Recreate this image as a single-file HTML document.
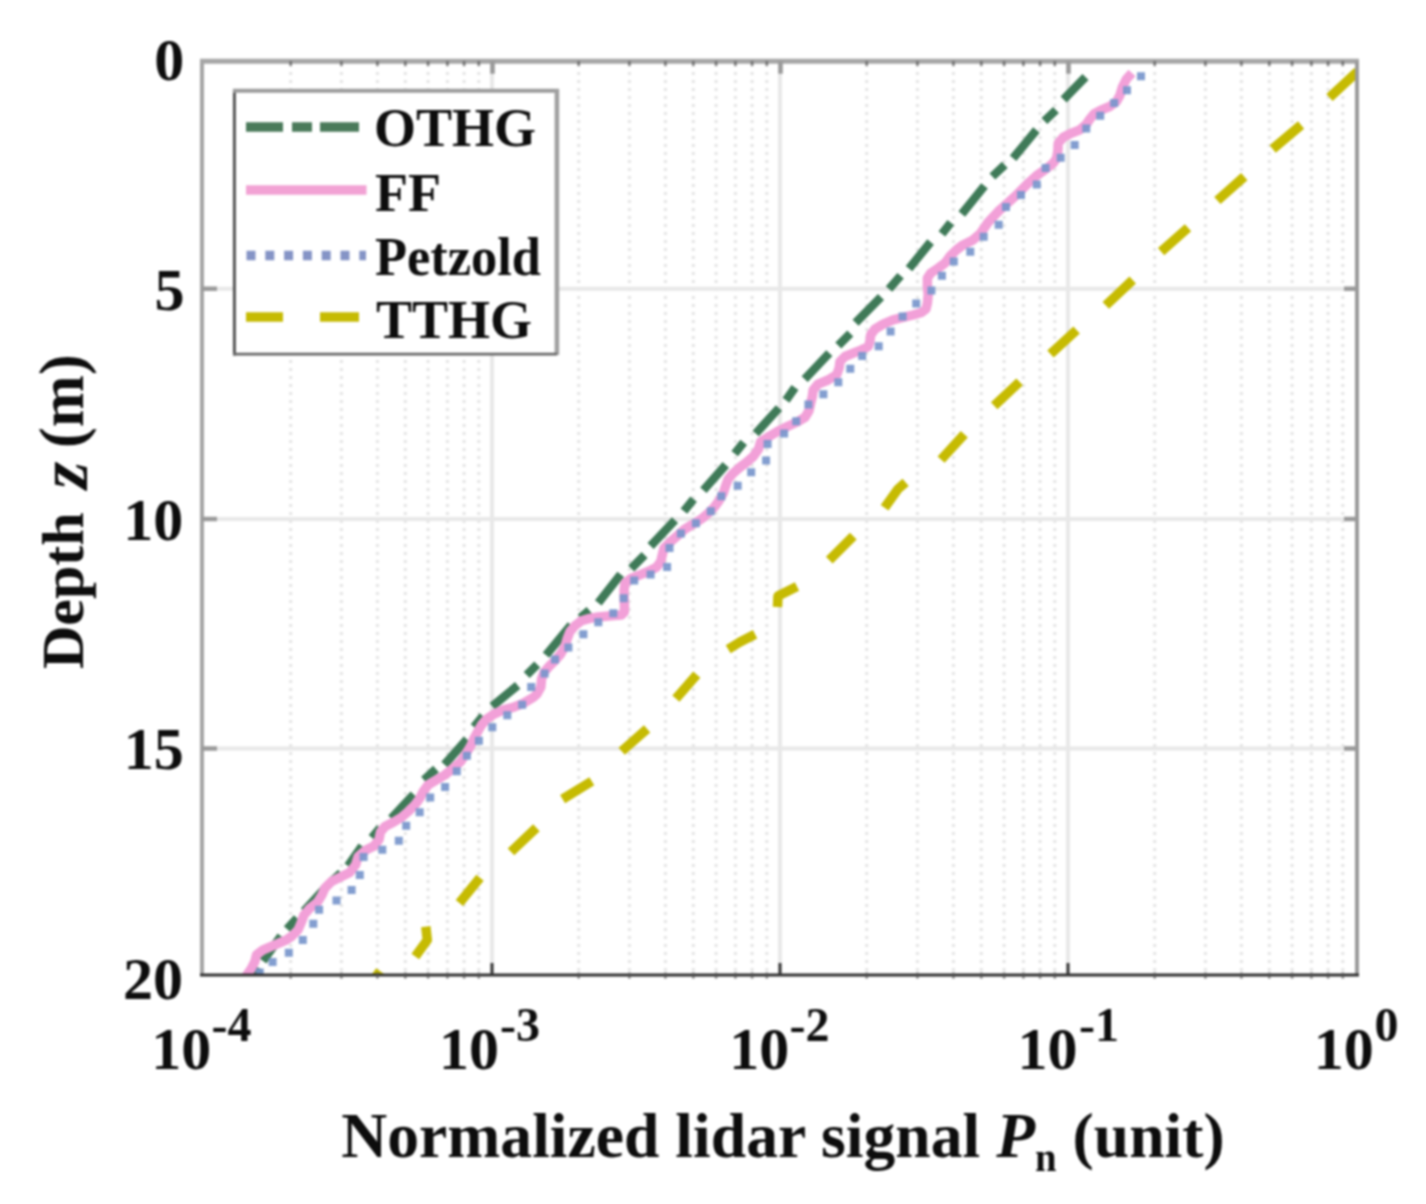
<!DOCTYPE html><html><head><meta charset="utf-8"><style>html,body{margin:0;padding:0;background:#fff}svg{display:block}#w{filter:blur(1px)}</style></head><body>
<div id="w"><svg width="1426" height="1204" viewBox="0 0 1426 1204">
<rect width="1426" height="1204" fill="#fff"/>
<path d="M290.7 64V973 M341.4 64V973 M377.4 64V973 M405.3 64V973 M428.1 64V973 M447.4 64V973 M464.1 64V973 M478.8 64V973 M578.7 64V973 M629.4 64V973 M665.4 64V973 M693.3 64V973 M716.1 64V973 M735.4 64V973 M752.1 64V973 M766.8 64V973 M866.7 64V973 M917.4 64V973 M953.4 64V973 M981.3 64V973 M1004.1 64V973 M1023.4 64V973 M1040.1 64V973 M1054.8 64V973 M1154.7 64V973 M1205.4 64V973 M1241.4 64V973 M1269.3 64V973 M1292.1 64V973 M1311.4 64V973 M1328.1 64V973 M1342.8 64V973" stroke="#e4e4e4" stroke-width="3" stroke-dasharray="3 5" fill="none"/>
<path d="M492.0 61V975 M780.0 61V975 M1068.0 61V975 M202 288.8H1357 M202 519.0H1357 M202 748.5H1357" stroke="#e8e8e8" stroke-width="4" fill="none"/>
<defs><clipPath id="ax"><rect x="202" y="61" width="1155" height="914"/></clipPath></defs>
<g clip-path="url(#ax)" fill="none" stroke-linejoin="round">
<path d="M1085.5 77.0 L1063.6 99.5 M1056.0 110.0 L1044.4 121.0 M1036.4 130.0 L1013.1 158.2 M1004.8 164.9 L992.4 176.5 M984.5 185.8 L961.8 214.0 M950.8 222.6 L941.9 233.8 M930.6 242.0 L909.0 268.6 M900.6 275.7 L889.0 289.0 M881.0 297.0 L855.6 322.8 M850.3 333.6 L838.3 345.6 M829.3 353.1 L804.7 379.2 M795.0 387.5 L786.0 400.2 M779.0 408.0 L755.7 433.5 M743.7 442.4 L734.7 453.6 M725.8 464.9 L703.4 490.3 M693.6 499.2 L683.9 511.2 M675.0 520.2 L650.6 546.0 M644.6 555.0 L631.2 568.4 M620.7 574.4 L598.3 602.8 M589.3 610.3 L580.4 617.7 M571.0 625.0 L546.0 655.1 M537.2 664.5 L526.7 675.0 M517.7 685.4 L492.3 706.3 M483.0 716.0 L474.0 727.0 M466.9 739.2 L444.5 764.6 M436.0 769.0 L424.0 780.0 M413.7 794.4 L391.3 818.3 M380.0 828.0 L371.9 837.7 M362.0 846.0 L348.0 866.0 M341.0 873.0 L331.0 882.0 M325.0 888.0 L304.0 911.0 M297.0 918.0 L287.0 929.0 M281.0 936.0 L263.0 961.0 M259.0 968.0 L255.0 976.0" stroke="#3f7a58" stroke-width="8.5" stroke-linecap="butt"/>
<path d="M1132.0 73.0 L1126.4 79.1 L1122.3 87.4 L1119.8 95.7 L1116.4 101.5 L1109.8 106.5 L1101.5 109.8 L1094.0 114.0 L1089.9 119.0 L1086.5 124.0 L1079.9 129.8 L1071.6 133.1 L1063.3 137.2 L1058.3 143.1 L1057.8 151.4 L1056.5 158.5 L1053.1 163.3 L1044.8 169.9 L1036.5 175.7 L1028.2 183.2 L1021.6 189.8 L1014.9 196.5 L1006.6 204.0 L998.3 211.4 L988.0 222.5 L980.6 233.3 L973.1 239.9 L963.1 244.9 L956.5 249.9 L949.8 256.5 L944.9 263.2 L938.2 268.1 L930.7 273.1 L927.4 278.1 L927.4 286.4 L928.2 294.7 L927.4 303.0 L926.0 309.0 L921.4 312.5 L913.1 315.0 L903.1 317.4 L893.1 319.9 L883.2 324.1 L874.9 329.1 L870.7 334.9 L869.9 341.5 L868.2 346.5 L861.6 349.8 L853.3 353.2 L845.0 356.5 L840.0 361.5 L839.1 368.1 L836.6 374.8 L828.1 380.0 L818.1 384.1 L813.2 390.0 L812.3 396.6 L810.7 403.2 L809.0 410.7 L804.9 417.4 L796.5 422.3 L787.4 426.5 L777.4 431.5 L769.1 436.5 L760.7 441.5 L758.6 449.0 L753.1 456.6 L746.5 462.4 L739.8 467.4 L733.2 473.2 L728.2 479.0 L725.7 485.7 L723.2 493.2 L719.1 500.6 L714.1 507.3 L708.3 513.1 L702.5 518.1 L694.8 523.2 L684.8 529.1 L676.4 536.6 L669.8 542.4 L664.0 548.2 L662.3 554.9 L660.7 561.5 L656.5 567.3 L648.2 571.5 L639.9 574.8 L631.6 578.1 L625.0 583.1 L624.1 589.8 L624.1 598.1 L624.5 606.4 L624.3 612.0 L621.5 615.0 L614.0 615.6 L606.0 616.2 L598.1 617.0 L589.8 618.4 L581.5 620.8 L574.9 625.7 L569.9 631.6 L567.4 638.2 L564.9 646.5 L560.7 654.0 L554.9 660.6 L549.1 666.4 L544.1 672.3 L541.6 678.9 L540.8 687.2 L537.0 694.0 L533.1 697.5 L523.1 703.3 L513.1 707.4 L503.2 709.9 L494.0 714.1 L486.5 719.1 L481.6 724.9 L478.2 730.7 L474.1 738.2 L470.8 745.6 L465.8 753.9 L460.5 761.8 L453.1 768.3 L444.8 775.0 L436.4 779.9 L428.1 784.9 L423.2 791.6 L419.8 798.2 L414.9 804.9 L408.2 811.5 L401.6 817.3 L393.3 822.3 L385.0 826.4 L380.5 832.0 L379.0 839.5 L374.0 846.0 L366.0 849.9 L358.1 856.6 L355.6 864.9 L349.8 872.4 L341.5 876.5 L331.5 881.5 L324.9 888.1 L321.6 895.6 L317.4 902.3 L309.8 908.2 L304.0 915.0 L301.0 923.0 L298.0 930.0 L292.0 936.0 L286.5 939.8 L274.9 944.8 L263.2 949.8 L256.6 954.8 L254.9 961.4 L251.6 968.1 L246.6 975.5 L245.5 977.0" stroke="#f2a0d8" stroke-width="9.5"/>
<path d="M1137.0 72.3h8v8h-8zM1123.0 86.2h8v8h-8zM1110.2 99.0h8v8h-8zM1096.2 111.8h8v8h-8zM1082.3 124.6h8v8h-8zM1070.7 140.9h8v8h-8zM1056.7 153.7h8v8h-8zM1041.6 164.1h8v8h-8zM1032.8 180.4h8v8h-8zM1017.0 191.0h8v8h-8zM1002.0 203.0h8v8h-8zM994.7 220.8h8v8h-8zM979.7 232.8h8v8h-8zM966.3 247.8h8v8h-8zM949.8 257.5h8v8h-8zM937.9 271.7h8v8h-8zM927.4 286.6h8v8h-8zM912.2 299.5h8v8h-8zM898.6 312.4h8v8h-8zM886.6 327.4h8v8h-8zM874.7 342.3h8v8h-8zM858.2 352.1h8v8h-8zM846.3 364.8h8v8h-8zM834.3 378.2h8v8h-8zM819.4 390.2h8v8h-8zM804.4 400.6h8v8h-8zM792.2 417.3h8v8h-8zM780.1 429.5h8v8h-8zM763.6 439.9h8v8h-8zM762.1 456.4h8v8h-8zM747.2 468.3h8v8h-8zM733.7 481.8h8v8h-8zM717.3 492.2h8v8h-8zM706.8 507.2h8v8h-8zM691.9 519.2h8v8h-8zM676.9 529.6h8v8h-8zM665.5 544.0h8v8h-8zM663.1 562.9h8v8h-8zM646.6 570.4h8v8h-8zM630.2 576.4h8v8h-8zM619.7 594.3h8v8h-8zM609.3 609.3h8v8h-8zM594.3 618.2h8v8h-8zM579.4 630.2h8v8h-8zM564.4 643.6h8v8h-8zM551.0 655.6h8v8h-8zM540.6 669.5h8v8h-8zM527.2 682.9h8v8h-8zM518.2 700.8h8v8h-8zM503.3 711.3h8v8h-8zM488.3 723.3h8v8h-8zM474.9 736.7h8v8h-8zM462.9 751.7h8v8h-8zM452.8 767.3h8v8h-8zM441.1 782.9h8v8h-8zM426.2 793.4h8v8h-8zM415.7 808.3h8v8h-8zM402.2 821.8h8v8h-8zM394.8 836.7h8v8h-8zM378.3 845.7h8v8h-8zM359.6 853.0h8v8h-8zM355.8 870.9h8v8h-8zM347.6 886.0h8v8h-8zM332.5 896.5h8v8h-8zM315.1 905.8h8v8h-8zM309.3 919.7h8v8h-8zM298.8 936.0h8v8h-8zM284.8 948.8h8v8h-8zM268.6 958.1h8v8h-8zM255.8 968.6h8v8h-8z" fill="#7896cc" stroke="none" opacity="0.92"/>
<path d="M1357.5 71.5 L1329.5 97.4 M1301.1 125.0 L1272.7 149.0 M1244.3 176.6 L1217.4 200.5 M1188.0 227.7 L1161.1 251.6 M1132.7 280.0 L1105.8 305.4 M1076.6 330.0 L1050.5 354.0 M1019.6 381.9 L994.2 405.8 M964.3 434.2 L941.1 459.6 M905.6 482.4 L898.0 489.0 L884.6 507.8 M853.3 536.2 L829.3 560.2 M797.0 586.4 L778.0 596.0 L777.5 607.0 M755.1 634.3 L740.0 642.0 L728.2 649.2 M696.8 674.6 L675.9 698.6 M647.1 728.9 L621.7 751.3 M591.8 781.2 L562.6 799.1 M536.4 827.7 L511.0 851.9 M480.0 877.8 L459.4 903.0 M425.8 926.6 L427.3 940.0 L415.3 956.5 M380.0 971.0 L375.0 978.0" stroke="#c6bb02" stroke-width="9.5" stroke-linecap="butt"/>
</g>
<path d="M202.0 61.2V975.0" stroke="#a4a4a4" stroke-width="4"/>
<path d="M200.0 61.2H1359.0" stroke="#a6a6a6" stroke-width="5"/>
<path d="M1357.0 61.2V975.0" stroke="#9a9a9a" stroke-width="4"/>
<path d="M200.0 975.0H1359.0" stroke="#2e2e2e" stroke-width="3"/>
<path d="M492.0 975.0v-12 M780.0 975.0v-12 M1068.0 975.0v-12" stroke="#333" stroke-width="3"/>
<path d="M492.5 61.2v12.5 M780.5 61.2v12.5 M1068.5 61.2v12.5 M202.0 288.8h15 M1357.0 288.8h-13 M202.0 519.0h15 M1357.0 519.0h-13 M202.0 748.5h15 M1357.0 748.5h-13" stroke="#9a9a9a" stroke-width="4.6"/>
<path d="M290.7 978.5v-6 M290.7 61.2v4.5 M341.4 978.5v-6 M341.4 61.2v4.5 M377.4 978.5v-6 M377.4 61.2v4.5 M405.3 978.5v-6 M405.3 61.2v4.5 M428.1 978.5v-6 M428.1 61.2v4.5 M447.4 978.5v-6 M447.4 61.2v4.5 M464.1 978.5v-6 M464.1 61.2v4.5 M478.8 978.5v-6 M478.8 61.2v4.5 M578.7 978.5v-6 M578.7 61.2v4.5 M629.4 978.5v-6 M629.4 61.2v4.5 M665.4 978.5v-6 M665.4 61.2v4.5 M693.3 978.5v-6 M693.3 61.2v4.5 M716.1 978.5v-6 M716.1 61.2v4.5 M735.4 978.5v-6 M735.4 61.2v4.5 M752.1 978.5v-6 M752.1 61.2v4.5 M766.8 978.5v-6 M766.8 61.2v4.5 M866.7 978.5v-6 M866.7 61.2v4.5 M917.4 978.5v-6 M917.4 61.2v4.5 M953.4 978.5v-6 M953.4 61.2v4.5 M981.3 978.5v-6 M981.3 61.2v4.5 M1004.1 978.5v-6 M1004.1 61.2v4.5 M1023.4 978.5v-6 M1023.4 61.2v4.5 M1040.1 978.5v-6 M1040.1 61.2v4.5 M1054.8 978.5v-6 M1054.8 61.2v4.5 M1154.7 978.5v-6 M1154.7 61.2v4.5 M1205.4 978.5v-6 M1205.4 61.2v4.5 M1241.4 978.5v-6 M1241.4 61.2v4.5 M1269.3 978.5v-6 M1269.3 61.2v4.5 M1292.1 978.5v-6 M1292.1 61.2v4.5 M1311.4 978.5v-6 M1311.4 61.2v4.5 M1328.1 978.5v-6 M1328.1 61.2v4.5 M1342.8 978.5v-6 M1342.8 61.2v4.5" stroke="#505050" stroke-width="2.6" opacity="0.7"/>
<g font-family="Liberation Serif" font-weight="bold" fill="#0d0d0d" font-size="60">
<text x="154.3" y="80.4">0</text>
<text x="154.5" y="309.8">5</text>
<text x="123.3" y="540">10</text>
<text x="123.7" y="769">15</text>
<text x="123" y="998.7">20</text>
<text x="151.3" y="1068.5">10</text><text x="211.5" y="1040.5" font-size="48">-4</text>
<text x="439.1" y="1068.5">10</text><text x="499.9" y="1040.5" font-size="48">-3</text>
<text x="729.2" y="1068.5">10</text><text x="789.4" y="1040.5" font-size="48">-2</text>
<text x="1017.5" y="1068.5">10</text><text x="1078.9" y="1040.5" font-size="48">-1</text>
<text x="1313.7" y="1068.5">10</text><text x="1374.5" y="1040.5" font-size="48">0</text>
</g>
<g font-family="Liberation Serif" font-weight="bold" fill="#0d0d0d">
<text x="342" y="1157" font-size="64" transform="matrix(0.995 0 0 1 0.91 0)">Normalized lidar signal <tspan font-style="italic">P</tspan><tspan font-size="39" dy="14">n</tspan><tspan dy="-14"> (unit)</tspan></text>
<g transform="translate(83,669) rotate(-90)" font-size="60"><text x="0" y="0">Depth</text><text x="180" y="4" font-style="italic" font-size="70">z</text><text x="221" y="0" font-size="62.5">(m)</text></g>
</g>
<rect x="234" y="90" width="324" height="265" fill="#fff"/>
<path d="M234.4 89V355.6" stroke="#505050" stroke-width="2.9"/>
<path d="M233 90.8H559" stroke="#9c9c9c" stroke-width="4"/>
<path d="M556.9 89V355" stroke="#a0a0a0" stroke-width="4.6"/>
<path d="M233 354.2H557" stroke="#676767" stroke-width="2.8"/>
<g stroke-width="9.5" fill="none">
<path d="M246 127H283M292 127H312M320 127H359" stroke="#4a7a5a"/>
<path d="M246 190H366.5" stroke="#f2a2d4"/>
<path d="M246.5 255.5H366" stroke="#8594c6" stroke-dasharray="9 9.8"/>
<path d="M246 317H283M320 317H359" stroke="#c6bb02"/>
</g>
<g font-family="Liberation Serif" font-weight="bold" fill="#0d0d0d" font-size="54">
<text x="374" y="146">OTHG</text>
<text x="375" y="210.5">FF</text>
<text x="375" y="274.5" textLength="166" lengthAdjust="spacingAndGlyphs">Petzold</text>
<text x="376" y="337.5">TTHG</text>
</g>
</svg></div></body></html>
